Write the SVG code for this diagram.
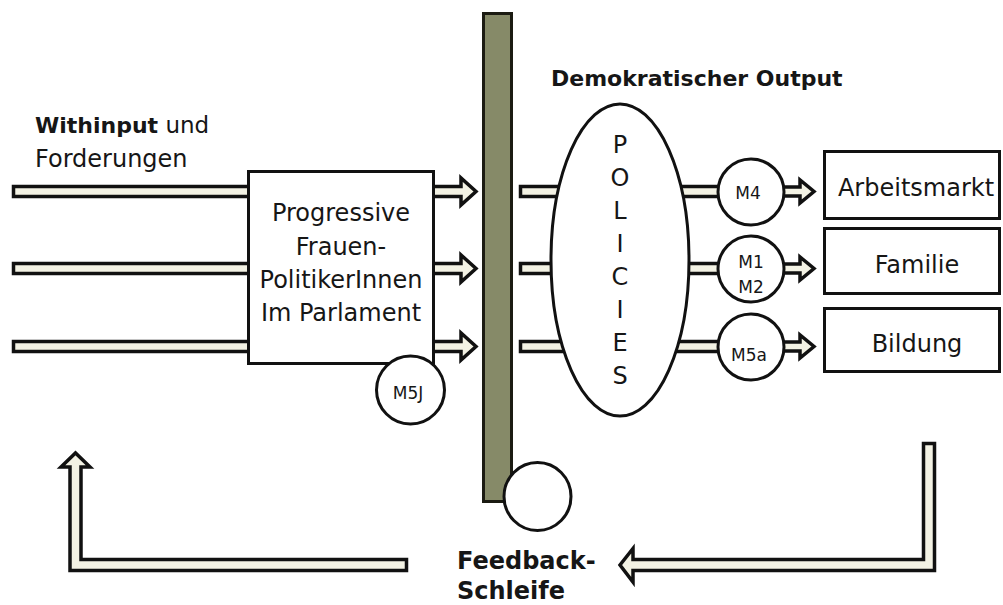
<svg xmlns="http://www.w3.org/2000/svg" width="1003" height="605" viewBox="0 0 1003 605">
<style>
  .t { font-family: "DejaVu Sans", "Liberation Sans", sans-serif; fill: #161616; }
  .b { font-weight: bold; }
  .ln { fill: #ffffff; stroke: #111111; stroke-width: 3; }
  .sh { fill: #f3f2e4; stroke: #111111; stroke-width: 3.5; stroke-linejoin: miter; }
  .m { font-size: 17px; text-anchor: middle; }
  .lbl { font-size: 24px; text-anchor: middle; }
</style>
<rect x="0" y="0" width="1003" height="605" fill="#ffffff"/>

<g id="connectors">
  <rect class="sh" x="13.5" y="186.5" width="240" height="10"/>
  <rect class="sh" x="13.5" y="263.5" width="240" height="10"/>
  <rect class="sh" x="13.5" y="341.5" width="240" height="10"/>
  <polygon class="sh" points="430,186.5 461,186.5 461,178 476,191.5 461,205 461,196.5 430,196.5"/>
  <polygon class="sh" points="430,263.5 461,263.5 461,255 476,268.5 461,282 461,273.5 430,273.5"/>
  <polygon class="sh" points="430,341.5 461,341.5 461,333 476,346.5 461,360 461,351.5 430,351.5"/>
  <rect class="sh" x="520.5" y="186.5" width="45" height="10"/>
  <rect class="sh" x="520.5" y="263.5" width="45" height="10"/>
  <rect class="sh" x="520.5" y="341.5" width="45" height="10"/>
  <rect class="sh" x="660" y="186.5" width="65" height="10"/>
  <rect class="sh" x="660" y="263.5" width="65" height="10"/>
  <rect class="sh" x="660" y="341.5" width="65" height="10"/>
  <polygon class="sh" points="778,187 800,187 800,180 814,191.5 800,203 800,196 778,196"/>
  <polygon class="sh" points="778,264 800,264 800,257 814,268.5 800,280 800,273 778,273"/>
  <polygon class="sh" points="778,342 800,342 800,335 814,346.5 800,358 800,351 778,351"/>
  <path class="sh" d="M923.5,443.5 L934.5,443.5 L934.5,570.5 L633,570.5 L633,582 L620,565 L633,548.5 L633,559.5 L923.5,559.5 Z"/>
  <path class="sh" d="M406.5,559.5 L81,559.5 L81,467 L90,467 L75.5,453 L61,467 L70,467 L70,570.5 L406.5,570.5 Z"/>
</g>

<g id="input-label">
  <text class="t" x="35" y="133" font-size="23"><tspan class="b" font-size="22">Withinput</tspan> und</text>
  <text class="t" x="35" y="167" font-size="24">Forderungen</text>
</g>

<g id="box-politikerinnen">
  <rect class="ln" x="248.5" y="171.5" width="185" height="192"/>
  <text class="t lbl" x="341" y="221">Progressive</text>
  <text class="t lbl" x="341" y="255">Frauen-</text>
  <text class="t lbl" x="341" y="288">PolitikerInnen</text>
  <text class="t lbl" x="341" y="321">Im Parlament</text>
</g>

<g id="m5j">
  <circle class="ln" cx="410.5" cy="390" r="34"/>
  <text class="t m" x="408" y="399">M5J</text>
</g>

<g id="bar">
  <rect x="483.5" y="13.5" width="28" height="488" fill="#868a68" stroke="#1b1b12" stroke-width="3"/>
</g>

<g id="feedback-circle">
  <ellipse class="ln" cx="537.5" cy="496.5" rx="33.5" ry="34"/>
</g>

<g id="title">
  <text class="t b" x="551" y="86" font-size="22">Demokratischer Output</text>
</g>

<g id="policies">
  <ellipse class="ln" cx="620" cy="260" rx="69" ry="156"/>
  <g class="t" font-size="24" text-anchor="middle">
    <text x="620" y="153">P</text>
    <text x="620" y="186">O</text>
    <text x="620" y="219">L</text>
    <text x="620" y="252">I</text>
    <text x="620" y="285">C</text>
    <text x="620" y="318">I</text>
    <text x="620" y="351">E</text>
    <text x="620" y="384">S</text>
  </g>
</g>

<g id="m4">
  <circle class="ln" cx="751" cy="192" r="33"/>
  <text class="t m" x="748" y="199">M4</text>
</g>
<g id="m1m2">
  <circle class="ln" cx="751" cy="269" r="33"/>
  <text class="t m" x="751" y="268">M1</text>
  <text class="t m" x="751" y="293">M2</text>
</g>
<g id="m5a">
  <circle class="ln" cx="751" cy="347" r="33"/>
  <text class="t m" x="749" y="361">M5a</text>
</g>

<g id="box-arbeitsmarkt">
  <rect class="ln" x="824.5" y="151.5" width="175" height="67"/>
  <text class="t lbl" x="916" y="196">Arbeitsmarkt</text>
</g>
<g id="box-familie">
  <rect class="ln" x="824.5" y="228.5" width="175" height="65"/>
  <text class="t lbl" x="917" y="273">Familie</text>
</g>
<g id="box-bildung">
  <rect class="ln" x="824.5" y="308.5" width="175" height="63"/>
  <text class="t lbl" x="917" y="352">Bildung</text>
</g>

<g id="feedback-label">
  <text class="t b" x="457" y="569" font-size="24">Feedback-</text>
  <text class="t b" x="457" y="599" font-size="24">Schleife</text>
</g>
</svg>
